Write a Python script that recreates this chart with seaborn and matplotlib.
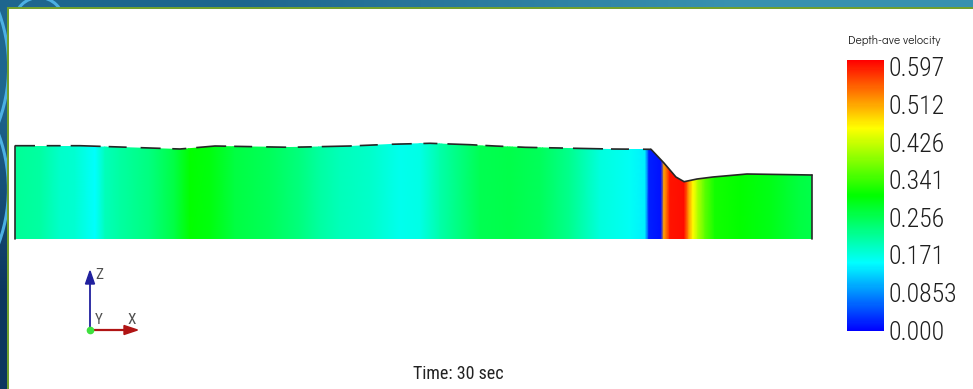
import numpy as np
import pandas as pd
import matplotlib
matplotlib.use("Agg")
import matplotlib.pyplot as plt
from matplotlib import font_manager
from matplotlib.colors import LinearSegmentedColormap, Normalize
from matplotlib.patches import Polygon, Circle, Rectangle
from matplotlib.cm import ScalarMappable
from matplotlib.transforms import ScaledTranslation
import seaborn as sns

# ---- depth-averaged velocity along the channel (m/s) ----
station = [0.00, 1.25, 2.26, 3.01, 4.02, 4.52, 5.27, 6.78, 8.03, 8.78,
           9.79, 11.04, 12.80, 14.30, 15.31, 16.31, 17.82, 19.32, 20.33, 21.33,
           23.34, 24.84, 26.35, 27.85, 29.36, 30.87, 31.62, 31.82, 32.42, 32.57,
           32.87, 33.58, 33.83, 34.03, 34.28, 34.63, 35.13, 36.39, 37.89, 39.40,
           40.00]
velocity = [0.21, 0.205, 0.18, 0.175, 0.15, 0.19, 0.205, 0.225, 0.26, 0.30,
            0.29, 0.26, 0.245, 0.225, 0.205, 0.19, 0.18, 0.16, 0.165, 0.20,
            0.25, 0.255, 0.245, 0.215, 0.17, 0.155, 0.14, 0.02, 0.01, 0.50,
            0.585, 0.59, 0.50, 0.45, 0.40, 0.35, 0.31, 0.30, 0.285, 0.26,
            0.255]

# ---- water surface elevation above the bed (m) ----
surf_station = [0.00, 3.26, 5.27, 8.28, 10.04, 13.80, 16.81, 18.82, 20.83, 22.84,
                24.09, 25.60, 29.86, 31.92, 32.57, 33.17, 33.58, 34.23, 35.03,
                36.74, 40.00]
surf_elev = [4.665, 4.665, 4.60, 4.50, 4.65, 4.585, 4.65, 4.735, 4.785, 4.715,
             4.65, 4.585, 4.50, 4.485, 3.80, 3.10, 2.865, 3.00, 3.10,
             3.25, 3.20]

# colour bar labels
cbar_ticks = [0.0, 0.0853, 0.171, 0.256, 0.341, 0.426, 0.512, 0.597]
cbar_labels = ["0.000", "0.0853", "0.171", "0.256", "0.341", "0.426", "0.512", "0.597"]
vmin, vmax = 0.0, 0.597

sns.set_theme(style="white")
installed = {f.name for f in font_manager.fontManager.ttflist}


def pick(cands, fallback):
    for c in cands:
        if c in installed:
            return c
    return fallback


narrow = pick(["Liberation Sans Narrow", "Roboto Condensed", "PT Sans Narrow",
               "Archivo Narrow", "Arimo Narrow", "Open Sans Condensed",
               "Asap Condensed", "Barlow Semi Condensed", "Encode Sans Condensed"],
              "Liberation Sans")
gothic = pick(["Didact Gothic", "Questrial", "Liberation Sans"], "Liberation Sans")
plt.rcParams["font.family"] = ["Liberation Sans", "DejaVu Sans"]

W, H = 973, 389
fig = plt.figure(figsize=(W / 100, H / 100), dpi=100)

# ---- slide background, frame and decoration (pixel coordinates) ----
bg = fig.add_axes([0, 0, 1, 1], zorder=0)
bg.set_xlim(0, W)
bg.set_ylim(H, 0)
bg.axis("off")
grad = np.array([[[0.12, 0.40, 0.56], [0.22, 0.57, 0.69]],
                 [[0.05, 0.21, 0.37], [0.10, 0.30, 0.45]]])
bg.imshow(grad, extent=(0, W, H, 0), interpolation="bilinear", aspect="auto")
for c in [(39, 22, 24.5), (-150, 67, 158.6), (-150, 189, 158.4)]:
    bg.add_patch(Circle((c[0], c[1]), c[2], fill=False, lw=2.2, ec="#4cb0e2"))
bg.add_patch(Rectangle((7, 7), W, H, fc="#72a02e", ec="none"))
bg.add_patch(Rectangle((9, 9), W, H, fc="white", ec="none"))

# axes triad
zc, xc = "#20209e", "#b01414"
bg.plot([90, 90], [330, 283], color=zc, lw=1.3)
bg.add_patch(Polygon([(85.5, 284), (94.5, 284), (90, 271)], closed=True, fc=zc, ec=zc))
bg.plot([90, 125], [330, 330], color=xc, lw=1.6)
bg.add_patch(Polygon([(124, 325.5), (124, 334.5), (137.5, 330)], closed=True, fc=xc, ec=xc))
bg.plot([90], [330], "o", ms=4.5, color="#3ee03e")
bg.text(95, 275, "Z", fontsize=11, color="#505050", va="center", family=narrow)
bg.text(95, 320, "Y", fontsize=11, color="#505050", va="center", family=narrow)
bg.text(127, 320, "X", fontsize=11, color="#505050", va="center", family=narrow)

# ---- channel section coloured by velocity ----
cmap = LinearSegmentedColormap.from_list(
    "pv_rainbow", ["#0000ff", "#00ffff", "#00ff00", "#ffff00", "#ff0000"])
norm = Normalize(vmin, vmax)

ax = fig.add_axes([15 / W, (H - 239) / H, 797 / W, 100 / H], zorder=2)
ax.set_xlim(0, 40)
ax.set_ylim(0, 5)
ax.axis("off")
ax.patch.set_alpha(0)

X, Y = np.meshgrid(station, [0, 5])
C = np.vstack([velocity, velocity])
mesh = ax.pcolormesh(X, Y, C, shading="gouraud", cmap=cmap, norm=norm)
outline = [(0, 0)] + list(zip(surf_station, surf_elev)) + [(40, 0)]
clip = Polygon(outline, closed=True, transform=ax.transData)
mesh.set_clip_path(clip)

# free-surface outline: broken where it sinks behind the mesh, solid over the drop
split = 13
df = pd.DataFrame({
    "station": surf_station[:split + 1] + surf_station[split:],
    "elev": surf_elev[:split + 1] + surf_elev[split:],
    "reach": ["flat"] * (split + 1) + ["drop"] * (len(surf_station) - split),
})
sns.lineplot(data=df, x="station", y="elev", style="reach",
             dashes={"flat": (12, 7, 8.4, 6, 18, 4.8, 10.8, 8.4), "drop": ""},
             color="#262626", lw=1.2, sort=False, estimator=None,
             legend=False, ax=ax)
for ln in ax.lines:
    ln.set_clip_on(False)
ax.plot([station[0], station[0]], [0, surf_elev[0]], color="#2a2a2a", lw=1.2, clip_on=False)
ax.plot([station[-1], station[-1]], [0, surf_elev[-1]], color="#2a2a2a", lw=1.2, clip_on=False)

# ---- colour bar ----
cax = fig.add_axes([847 / W, (H - 331) / H, 37 / W, 271 / H], zorder=2)
cb = fig.colorbar(ScalarMappable(norm=norm, cmap=cmap), cax=cax, ticks=cbar_ticks)
cb.outline.set_visible(False)
cb.set_ticklabels(cbar_labels)
cax.tick_params(length=0, pad=3, labelsize=18.5, labelcolor="#1e1e1e")
for i, lab in enumerate(cax.get_yticklabels()):
    lab.set_family(narrow)
    lab.set_fontweight("light")
    lab.set_transform(lab.get_transform() +
                      ScaledTranslation(0, -(-1 + 1.1 * i) / 100, fig.dpi_scale_trans))

fig.text(894 / W, (H - 40) / H, "Depth-ave velocity", ha="center", va="center",
         fontsize=8.5, color="#222222", family=gothic)
fig.text(458 / W, (H - 374) / H, "Time: 30 sec", ha="center", va="center",
         fontsize=13, color="#222222", family=narrow)

fig.savefig("out.png", dpi=100)
